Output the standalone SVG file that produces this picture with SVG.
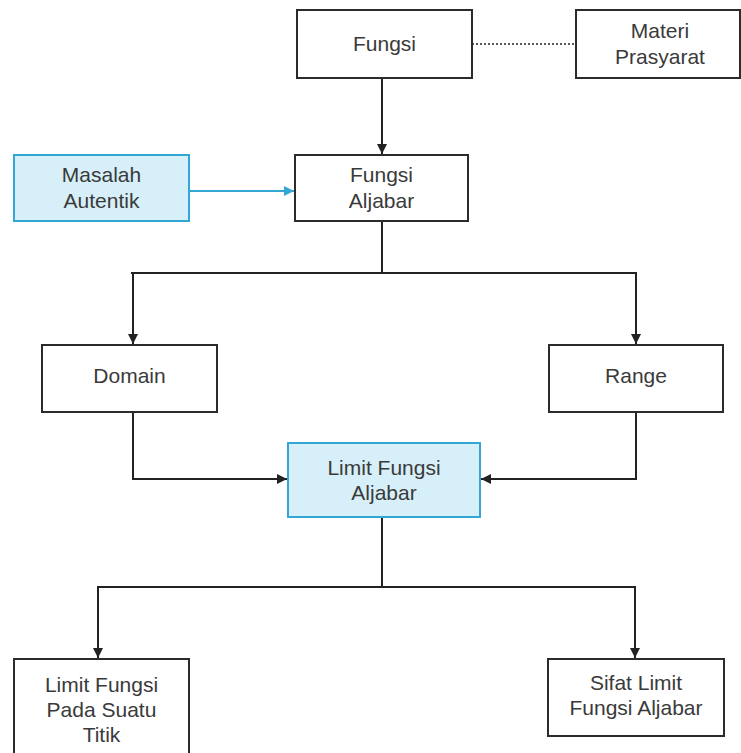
<svg xmlns="http://www.w3.org/2000/svg" width="741" height="753" viewBox="0 0 741 753">
<defs>
<style>
.box{fill:#ffffff;stroke:#2b2b2b;stroke-width:2}
.blue{fill:#d6eff9;stroke:#33a7d3;stroke-width:2}
.t{font-family:"Liberation Sans",Arial,sans-serif;font-size:21px;fill:#3a3a3a;text-anchor:middle}
.ln{fill:none;stroke:#222;stroke-width:2}
.bl{fill:none;stroke:#33a7d3;stroke-width:2}
</style>
<marker id="ah" viewBox="0 0 10 10" refX="10" refY="5" markerWidth="10" markerHeight="10" markerUnits="userSpaceOnUse" orient="auto"><path d="M0,0 L10,5 L0,10 z" fill="#222"/></marker>
<marker id="ahb" viewBox="0 0 10 10" refX="10" refY="5" markerWidth="10" markerHeight="10" markerUnits="userSpaceOnUse" orient="auto"><path d="M0,0 L10,5 L0,10 z" fill="#33a7d3"/></marker>
</defs>
<rect width="741" height="753" fill="#ffffff"/>
<g id="connectors">
<line x1="472" y1="44" x2="576" y2="44" stroke="#222" stroke-width="1.5" stroke-dasharray="2 2"/>
<path class="ln" d="M382,78 V154" marker-end="url(#ah)"/>
<path class="bl" d="M189,191 H294" marker-end="url(#ahb)"/>
<path class="ln" d="M382,221 V273"/>
<path class="ln" d="M131,273 H637"/>
<path class="ln" d="M133,273 V344" marker-end="url(#ah)"/>
<path class="ln" d="M636,273 V344" marker-end="url(#ah)"/>
<path class="ln" d="M133,412 V479 H287" marker-end="url(#ah)"/>
<path class="ln" d="M636,412 V479 H481" marker-end="url(#ah)"/>
<path class="ln" d="M382,517 V587"/>
<path class="ln" d="M97,587 H636"/>
<path class="ln" d="M98,587 V658" marker-end="url(#ah)"/>
<path class="ln" d="M635,587 V658" marker-end="url(#ah)"/>
</g>
<g id="fungsi">
<rect class="box" x="297" y="10" width="175" height="68"/>
<text class="t" x="384.5" y="51">Fungsi</text>
</g>
<g id="materi-prasyarat">
<rect class="box" x="576" y="10" width="164" height="68"/>
<text class="t" x="660" y="38">Materi</text>
<text class="t" x="660" y="64">Prasyarat</text>
</g>
<g id="masalah-autentik">
<rect class="blue" x="14" y="155" width="175" height="66"/>
<text class="t" x="101.5" y="182">Masalah</text>
<text class="t" x="101.5" y="208">Autentik</text>
</g>
<g id="fungsi-aljabar">
<rect class="box" x="295" y="155" width="173" height="66"/>
<text class="t" x="381.5" y="182">Fungsi</text>
<text class="t" x="381.5" y="208">Aljabar</text>
</g>
<g id="domain">
<rect class="box" x="42" y="345" width="175" height="67"/>
<text class="t" x="129.5" y="383">Domain</text>
</g>
<g id="range">
<rect class="box" x="549" y="345" width="174" height="67"/>
<text class="t" x="636" y="383">Range</text>
</g>
<g id="limit-fungsi-aljabar">
<rect class="blue" x="288" y="443" width="192" height="74"/>
<text class="t" x="384" y="475">Limit Fungsi</text>
<text class="t" x="384" y="500">Aljabar</text>
</g>
<g id="limit-titik">
<rect class="box" x="14" y="659" width="175" height="104"/>
<text class="t" x="101.5" y="692">Limit Fungsi</text>
<text class="t" x="101.5" y="717">Pada Suatu</text>
<text class="t" x="101.5" y="742">Titik</text>
</g>
<g id="sifat-limit">
<rect class="box" x="548" y="659" width="176" height="77"/>
<text class="t" x="636" y="690">Sifat Limit</text>
<text class="t" x="636" y="715">Fungsi Aljabar</text>
</g>
</svg>
